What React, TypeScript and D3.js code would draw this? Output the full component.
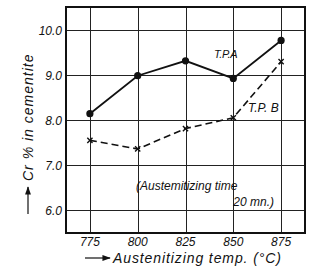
import React, { useEffect, useRef } from 'react';
import * as d3 from 'd3';

// austenitizing temperature (°C)
const temps = [775, 800, 825, 850, 875];
// Cr % in cementite
const tpA = [8.14, 8.98, 9.31, 8.92, 9.76];
const tpB = [7.55, 7.36, 7.81, 8.05, 9.29];
const yTicks = [6.0, 7.0, 8.0, 9.0, 10.0];

const W = 312;
const H = 271;

const App: React.FC = () => {
    const ref = useRef<SVGSVGElement>(null);

    useEffect(() => {
        if (!ref.current) return;
        const svg = d3.select(ref.current);
        svg.selectAll('*').remove();

        const left = 66, right = 305, top = 7, bottom = 233;
        const x = d3.scaleLinear().domain([762.5, 887.5]).range([left, right]);
        const y = d3.scaleLinear().domain([5.5, 10.5]).range([bottom, top]);
        const font = "'Liberation Sans', Arial, sans-serif";
        const ink = '#111';

        svg.append('defs').append('marker')
            .attr('id', 'arr')
            .attr('viewBox', '0 0 10 10')
            .attr('refX', 9).attr('refY', 5)
            .attr('markerWidth', 7).attr('markerHeight', 7)
            .attr('orient', 'auto')
            .append('path').attr('d', 'M0,1.5 L10,5 L0,8.5 Z').attr('fill', ink);

        // grid
        const g = svg.append('g');
        g.selectAll('line.h').data(yTicks).enter().append('line')
            .attr('x1', left).attr('x2', right)
            .attr('y1', d => Math.round(y(d)) + 0.5).attr('y2', d => Math.round(y(d)) + 0.5)
            .attr('stroke', '#222').attr('stroke-width', 1);
        g.selectAll('line.v').data(temps).enter().append('line')
            .attr('y1', top).attr('y2', bottom)
            .attr('x1', d => Math.round(x(d)) + 0.5).attr('x2', d => Math.round(x(d)) + 0.5)
            .attr('stroke', '#222').attr('stroke-width', 1);

        // frame
        svg.append('rect')
            .attr('x', left).attr('y', top)
            .attr('width', right - left).attr('height', bottom - top)
            .attr('fill', 'none').attr('stroke', ink).attr('stroke-width', 2);

        // tick labels
        svg.selectAll('text.yt').data(yTicks).enter().append('text')
            .attr('x', left - 4).attr('y', d => y(d) + 5)
            .attr('text-anchor', 'end')
            .attr('font-family', font).attr('font-style', 'italic')
            .attr('font-size', 12).attr('fill', ink)
            .text(d => d.toFixed(1));
        svg.selectAll('text.xt').data(temps).enter().append('text')
            .attr('x', d => x(d)).attr('y', 246)
            .attr('text-anchor', 'middle')
            .attr('font-family', font).attr('font-style', 'italic')
            .attr('font-size', 12).attr('fill', ink)
            .text(d => d);

        // series
        const ptsA = temps.map((t, i) => [t, tpA[i]] as [number, number]);
        const ptsB = temps.map((t, i) => [t, tpB[i]] as [number, number]);
        const line = d3.line<[number, number]>().x(d => x(d[0])).y(d => y(d[1]));

        svg.append('path').attr('d', line(ptsA))
            .attr('fill', 'none').attr('stroke', ink).attr('stroke-width', 1.8);
        svg.append('path').attr('d', line(ptsB))
            .attr('fill', 'none').attr('stroke', ink).attr('stroke-width', 1.6)
            .attr('stroke-dasharray', '7,4');

        svg.selectAll('circle.a').data(ptsA).enter().append('circle')
            .attr('cx', d => x(d[0])).attr('cy', d => y(d[1]))
            .attr('r', 3.6).attr('fill', ink);

        const s = 2.6;
        svg.selectAll('path.b').data(ptsB).enter().append('path')
            .attr('d', d => {
                const cx = x(d[0]), cy = y(d[1]);
                return `M${cx - s},${cy - s}L${cx + s},${cy + s}M${cx - s},${cy + s}L${cx + s},${cy - s}`;
            })
            .attr('stroke', ink).attr('stroke-width', 1.4).attr('fill', 'none');

        // series labels
        const lab = (tx: number, ty: number, s: string, anchor = 'start') =>
            svg.append('text').attr('x', tx).attr('y', ty)
                .attr('text-anchor', anchor)
                .attr('font-family', font).attr('font-style', 'italic')
                .attr('font-size', 12).attr('fill', ink).text(s);
        lab(214, 58, 'T.P.A').attr('font-size', 11).attr('letter-spacing', -0.4);
        lab(248, 112, 'T.P. B');
        lab(136, 190, '(Austemitizing time');
        lab(274, 206, '20 mn.)', 'end');

        // axis titles
        svg.append('line').attr('x1', 85).attr('x2', 110).attr('y1', 258).attr('y2', 258)
            .attr('stroke', ink).attr('stroke-width', 1.2).attr('marker-end', 'url(#arr)');
        lab(113, 263, 'Austenitizing temp. (°C)')
            .attr('font-size', 14).attr('letter-spacing', 0.9);

        svg.append('line').attr('x1', 28).attr('x2', 28).attr('y1', 214).attr('y2', 187)
            .attr('stroke', ink).attr('stroke-width', 1.2).attr('marker-end', 'url(#arr)');
        svg.append('text')
            .attr('transform', 'translate(33,181) rotate(-90)')
            .attr('font-family', font).attr('font-style', 'italic')
            .attr('font-size', 14).attr('letter-spacing', 1).attr('fill', ink)
            .text('Cr % in cementite');
    }, []);

    return (
        <svg ref={ref} width={W} height={H}
            style={{ position: 'absolute', left: 0, top: 0, background: '#fff' }} />
    );
};

export default App;
